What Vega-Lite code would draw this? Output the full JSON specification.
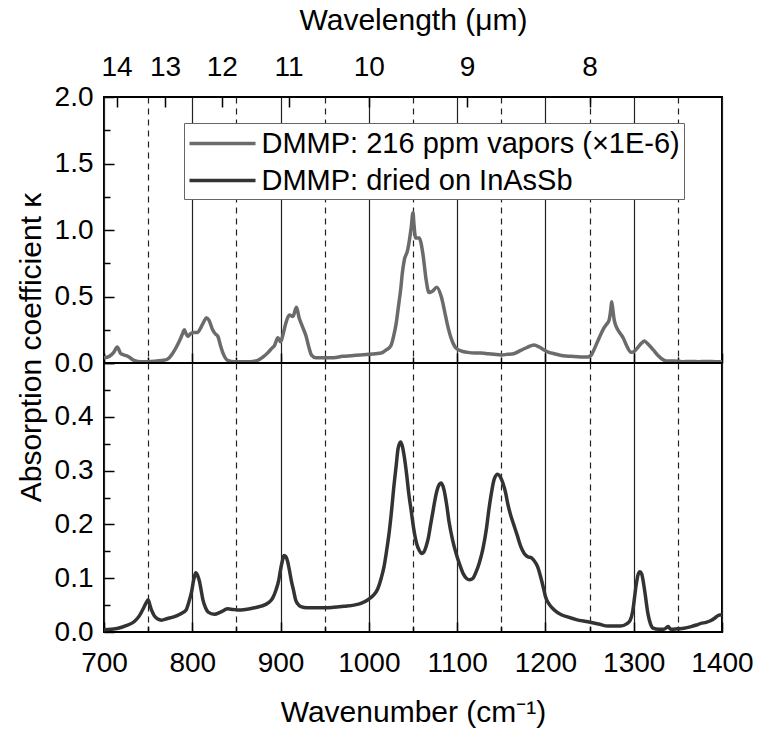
{
  "$schema": "https://vega.github.io/schema/vega-lite/v6.json",
  "padding": {"left": 15, "top": 4, "right": 5, "bottom": 5},
  "config": {
    "font": "Liberation Sans",
    "view": {"stroke": "#000", "strokeWidth": 2},
    "axis": {
      "labelFont": "Liberation Sans",
      "titleFont": "Liberation Sans",
      "labelFontSize": 28,
      "titleFontSize": 30,
      "titleFontWeight": "normal",
      "labelColor": "#000",
      "titleColor": "#000",
      "tickColor": "#000",
      "tickWidth": 1.5,
      "tickSize": -10,
      "domain": false,
      "grid": false,
      "labelFlush": false,
      "labelOverlap": false
    }
  },
  "datasets": {
    "vapor": [
      {"wn": 700, "k": 0.04}, {"wn": 706, "k": 0.05}, {"wn": 711, "k": 0.08}, {"wn": 715, "k": 0.12},
      {"wn": 719, "k": 0.07}, {"wn": 723, "k": 0.06}, {"wn": 727, "k": 0.05}, {"wn": 734, "k": 0.02},
      {"wn": 742, "k": 0.01}, {"wn": 750, "k": 0.01}, {"wn": 760, "k": 0.015}, {"wn": 768, "k": 0.02},
      {"wn": 774, "k": 0.04}, {"wn": 778, "k": 0.075}, {"wn": 782, "k": 0.12}, {"wn": 785, "k": 0.16},
      {"wn": 789, "k": 0.22}, {"wn": 791, "k": 0.25}, {"wn": 793, "k": 0.22}, {"wn": 795, "k": 0.2},
      {"wn": 798, "k": 0.22}, {"wn": 801, "k": 0.23}, {"wn": 806, "k": 0.23}, {"wn": 810, "k": 0.27},
      {"wn": 813, "k": 0.31}, {"wn": 816, "k": 0.34}, {"wn": 819, "k": 0.32}, {"wn": 823, "k": 0.25},
      {"wn": 826, "k": 0.22}, {"wn": 829, "k": 0.2}, {"wn": 832, "k": 0.13}, {"wn": 835, "k": 0.07},
      {"wn": 840, "k": 0.02}, {"wn": 848, "k": 0.01}, {"wn": 855, "k": 0.01}, {"wn": 865, "k": 0.01},
      {"wn": 874, "k": 0.02}, {"wn": 880, "k": 0.045}, {"wn": 886, "k": 0.08}, {"wn": 890, "k": 0.11},
      {"wn": 893, "k": 0.13}, {"wn": 897, "k": 0.19}, {"wn": 900, "k": 0.16}, {"wn": 903, "k": 0.22},
      {"wn": 906, "k": 0.3}, {"wn": 910, "k": 0.36}, {"wn": 914, "k": 0.35}, {"wn": 918, "k": 0.42},
      {"wn": 921, "k": 0.34}, {"wn": 925, "k": 0.27}, {"wn": 929, "k": 0.2}, {"wn": 932, "k": 0.12},
      {"wn": 935, "k": 0.06}, {"wn": 940, "k": 0.04}, {"wn": 950, "k": 0.04}, {"wn": 960, "k": 0.04},
      {"wn": 970, "k": 0.05}, {"wn": 980, "k": 0.055}, {"wn": 990, "k": 0.06}, {"wn": 1000, "k": 0.065},
      {"wn": 1008, "k": 0.07}, {"wn": 1014, "k": 0.075}, {"wn": 1020, "k": 0.1}, {"wn": 1025, "k": 0.13},
      {"wn": 1028, "k": 0.2}, {"wn": 1031, "k": 0.3}, {"wn": 1034, "k": 0.45}, {"wn": 1036, "k": 0.55},
      {"wn": 1038, "k": 0.68}, {"wn": 1040, "k": 0.77}, {"wn": 1044, "k": 0.85}, {"wn": 1048, "k": 1.02},
      {"wn": 1050, "k": 1.13}, {"wn": 1051, "k": 1.05}, {"wn": 1053, "k": 0.94}, {"wn": 1057, "k": 0.94},
      {"wn": 1061, "k": 0.83}, {"wn": 1065, "k": 0.62}, {"wn": 1068, "k": 0.53}, {"wn": 1072, "k": 0.54},
      {"wn": 1077, "k": 0.57}, {"wn": 1082, "k": 0.5}, {"wn": 1087, "k": 0.35}, {"wn": 1090, "k": 0.26},
      {"wn": 1093, "k": 0.19}, {"wn": 1096, "k": 0.14}, {"wn": 1099, "k": 0.11}, {"wn": 1105, "k": 0.09},
      {"wn": 1112, "k": 0.08}, {"wn": 1120, "k": 0.075}, {"wn": 1127, "k": 0.075}, {"wn": 1135, "k": 0.07},
      {"wn": 1142, "k": 0.065}, {"wn": 1150, "k": 0.06}, {"wn": 1157, "k": 0.065}, {"wn": 1164, "k": 0.07},
      {"wn": 1172, "k": 0.095}, {"wn": 1180, "k": 0.12}, {"wn": 1187, "k": 0.135}, {"wn": 1193, "k": 0.12},
      {"wn": 1198, "k": 0.1}, {"wn": 1204, "k": 0.08}, {"wn": 1210, "k": 0.07}, {"wn": 1220, "k": 0.055},
      {"wn": 1229, "k": 0.05}, {"wn": 1240, "k": 0.045}, {"wn": 1248, "k": 0.045}, {"wn": 1252, "k": 0.06},
      {"wn": 1255, "k": 0.1}, {"wn": 1259, "k": 0.16}, {"wn": 1263, "k": 0.22}, {"wn": 1266, "k": 0.26},
      {"wn": 1269, "k": 0.29}, {"wn": 1272, "k": 0.32}, {"wn": 1274, "k": 0.4}, {"wn": 1275, "k": 0.46},
      {"wn": 1276, "k": 0.42}, {"wn": 1278, "k": 0.32}, {"wn": 1282, "k": 0.25}, {"wn": 1285, "k": 0.22},
      {"wn": 1288, "k": 0.19}, {"wn": 1292, "k": 0.13}, {"wn": 1297, "k": 0.08}, {"wn": 1301, "k": 0.09},
      {"wn": 1305, "k": 0.12}, {"wn": 1309, "k": 0.15}, {"wn": 1312, "k": 0.165}, {"wn": 1315, "k": 0.15},
      {"wn": 1318, "k": 0.13}, {"wn": 1322, "k": 0.1}, {"wn": 1327, "k": 0.06}, {"wn": 1332, "k": 0.03},
      {"wn": 1337, "k": 0.015}, {"wn": 1345, "k": 0.015}, {"wn": 1355, "k": 0.01}, {"wn": 1365, "k": 0.012},
      {"wn": 1373, "k": 0.01}, {"wn": 1383, "k": 0.012}, {"wn": 1393, "k": 0.01}, {"wn": 1400, "k": 0.01}
    ],
    "dried": [
      {"wn": 700, "k": 0.004}, {"wn": 708, "k": 0.005}, {"wn": 716, "k": 0.007}, {"wn": 725, "k": 0.012},
      {"wn": 734, "k": 0.019}, {"wn": 740, "k": 0.03}, {"wn": 745, "k": 0.045}, {"wn": 748, "k": 0.055},
      {"wn": 750, "k": 0.06}, {"wn": 752, "k": 0.05}, {"wn": 754, "k": 0.04}, {"wn": 757, "k": 0.03},
      {"wn": 761, "k": 0.024}, {"wn": 765, "k": 0.022}, {"wn": 772, "k": 0.025}, {"wn": 779, "k": 0.028},
      {"wn": 786, "k": 0.033}, {"wn": 793, "k": 0.041}, {"wn": 796, "k": 0.055}, {"wn": 799, "k": 0.073},
      {"wn": 802, "k": 0.1}, {"wn": 804, "k": 0.11}, {"wn": 806, "k": 0.105}, {"wn": 808, "k": 0.095},
      {"wn": 810, "k": 0.078}, {"wn": 812, "k": 0.06}, {"wn": 815, "k": 0.045}, {"wn": 818, "k": 0.037},
      {"wn": 825, "k": 0.033}, {"wn": 832, "k": 0.037}, {"wn": 840, "k": 0.043}, {"wn": 846, "k": 0.042},
      {"wn": 852, "k": 0.041}, {"wn": 860, "k": 0.042}, {"wn": 870, "k": 0.045}, {"wn": 878, "k": 0.048},
      {"wn": 886, "k": 0.054}, {"wn": 891, "k": 0.063}, {"wn": 895, "k": 0.079}, {"wn": 898, "k": 0.097},
      {"wn": 900, "k": 0.116}, {"wn": 902, "k": 0.132}, {"wn": 904, "k": 0.142}, {"wn": 906, "k": 0.14},
      {"wn": 908, "k": 0.131}, {"wn": 910, "k": 0.115}, {"wn": 912, "k": 0.097}, {"wn": 915, "k": 0.075},
      {"wn": 917, "k": 0.06}, {"wn": 920, "k": 0.051}, {"wn": 923, "k": 0.047}, {"wn": 930, "k": 0.045},
      {"wn": 938, "k": 0.045}, {"wn": 950, "k": 0.045}, {"wn": 960, "k": 0.046}, {"wn": 972, "k": 0.048},
      {"wn": 983, "k": 0.05}, {"wn": 991, "k": 0.053}, {"wn": 999, "k": 0.06}, {"wn": 1005, "k": 0.068},
      {"wn": 1010, "k": 0.08}, {"wn": 1014, "k": 0.1}, {"wn": 1017, "k": 0.12}, {"wn": 1020, "k": 0.15},
      {"wn": 1023, "k": 0.185}, {"wn": 1026, "k": 0.23}, {"wn": 1028, "k": 0.265}, {"wn": 1031, "k": 0.31},
      {"wn": 1033, "k": 0.34}, {"wn": 1036, "k": 0.353}, {"wn": 1038, "k": 0.345}, {"wn": 1040, "k": 0.327},
      {"wn": 1043, "k": 0.29}, {"wn": 1045, "k": 0.26}, {"wn": 1048, "k": 0.225}, {"wn": 1051, "k": 0.19},
      {"wn": 1054, "k": 0.165}, {"wn": 1057, "k": 0.152}, {"wn": 1060, "k": 0.146}, {"wn": 1062, "k": 0.148},
      {"wn": 1065, "k": 0.16}, {"wn": 1067, "k": 0.172}, {"wn": 1070, "k": 0.2}, {"wn": 1073, "k": 0.228},
      {"wn": 1076, "k": 0.255}, {"wn": 1079, "k": 0.272}, {"wn": 1082, "k": 0.277}, {"wn": 1085, "k": 0.265},
      {"wn": 1088, "k": 0.238}, {"wn": 1091, "k": 0.203}, {"wn": 1095, "k": 0.17}, {"wn": 1099, "k": 0.145},
      {"wn": 1103, "k": 0.125}, {"wn": 1107, "k": 0.108}, {"wn": 1111, "k": 0.099}, {"wn": 1114, "k": 0.097},
      {"wn": 1118, "k": 0.1}, {"wn": 1121, "k": 0.11}, {"wn": 1125, "k": 0.128}, {"wn": 1129, "k": 0.153},
      {"wn": 1133, "k": 0.19}, {"wn": 1136, "k": 0.228}, {"wn": 1139, "k": 0.26}, {"wn": 1142, "k": 0.284},
      {"wn": 1146, "k": 0.293}, {"wn": 1149, "k": 0.288}, {"wn": 1152, "k": 0.276}, {"wn": 1155, "k": 0.258},
      {"wn": 1157, "k": 0.241}, {"wn": 1161, "k": 0.215}, {"wn": 1164, "k": 0.2}, {"wn": 1168, "k": 0.18},
      {"wn": 1172, "k": 0.159}, {"wn": 1176, "k": 0.146}, {"wn": 1180, "k": 0.14}, {"wn": 1184, "k": 0.138},
      {"wn": 1187, "k": 0.133}, {"wn": 1191, "k": 0.122}, {"wn": 1195, "k": 0.1}, {"wn": 1198, "k": 0.08},
      {"wn": 1200, "k": 0.066}, {"wn": 1205, "k": 0.05}, {"wn": 1210, "k": 0.041}, {"wn": 1218, "k": 0.032},
      {"wn": 1225, "k": 0.028}, {"wn": 1235, "k": 0.023}, {"wn": 1248, "k": 0.019}, {"wn": 1260, "k": 0.015},
      {"wn": 1271, "k": 0.011}, {"wn": 1285, "k": 0.011}, {"wn": 1292, "k": 0.015}, {"wn": 1296, "k": 0.022},
      {"wn": 1299, "k": 0.04}, {"wn": 1301, "k": 0.065}, {"wn": 1303, "k": 0.09}, {"wn": 1305, "k": 0.107},
      {"wn": 1307, "k": 0.112}, {"wn": 1309, "k": 0.108}, {"wn": 1311, "k": 0.092}, {"wn": 1313, "k": 0.07},
      {"wn": 1316, "k": 0.035}, {"wn": 1319, "k": 0.015}, {"wn": 1322, "k": 0.007}, {"wn": 1328, "k": 0.005},
      {"wn": 1334, "k": 0.005}, {"wn": 1339, "k": 0.01}, {"wn": 1342, "k": 0.005}, {"wn": 1350, "k": 0.006},
      {"wn": 1357, "k": 0.007}, {"wn": 1365, "k": 0.01}, {"wn": 1371, "k": 0.013}, {"wn": 1376, "k": 0.016},
      {"wn": 1382, "k": 0.018}, {"wn": 1387, "k": 0.021}, {"wn": 1392, "k": 0.026}, {"wn": 1396, "k": 0.031},
      {"wn": 1400, "k": 0.032}
    ]
  },
  "spacing": 0,
  "bounds": "flush",
  "resolve": {"scale": {"color": "independent"}, "legend": {"color": "independent"}},
  "vconcat": [
    {
      "width": 618,
      "height": 266,
      "layer": [
        {
          "data": {"name": "vapor"},
          "mark": {"type": "line", "interpolate": "monotone", "strokeWidth": 3.5},
          "encoding": {
            "x": {
              "field": "wn", "type": "quantitative",
              "scale": {"domain": [700, 1400], "nice": false, "zero": false},
              "axis": {
                "orient": "bottom",
                "values": [700, 750, 800, 850, 900, 950, 1000, 1050, 1100, 1150, 1200, 1250, 1300, 1350, 1400],
                "labels": false,
                "title": null,
                "grid": true,
                "gridColor": "#222",
                "gridWidth": 1.2,
                "gridDash": {"condition": {"test": "datum.value % 100 != 0", "value": [6, 5]}, "value": []},
                "tickDash": {"condition": {"test": "datum.value % 100 != 0", "value": [6, 30]}, "value": []}
              }
            },
            "y": {
              "field": "k", "type": "quantitative",
              "scale": {"domain": [0, 2], "nice": false},
              "axis": {
                "values": [0, 0.25, 0.5, 0.75, 1, 1.25, 1.5, 1.75, 2],
                "labelExpr": "datum.value * 2 == round(datum.value * 2) ? format(datum.value, '.1f') : ''",
                "title": null,
                "tickDash": {"condition": {"test": "datum.value * 2 != round(datum.value * 2)", "value": [6, 30]}, "value": []},
                "labelPadding": 21
              }
            },
            "color": {
              "datum": "DMMP: 216 ppm vapors (×1E-6)",
              "type": "nominal",
              "scale": {"domain": ["DMMP: 216 ppm vapors (×1E-6)", "DMMP: dried on InAsSb"], "range": ["#6b6b6b", "#333333"]},
              "legend": {
                "orient": "none",
                "legendX": 80,
                "legendY": 26,
                "title": null,
                "symbolType": "M-1,0H3.4",
                "symbolSize": 900,
                "symbolStrokeWidth": 3.5,
                "labelFont": "Liberation Sans",
                "labelFontSize": 29,
                "labelColor": "#000",
                "labelLimit": 700,
                "labelOffset": 40,
                "strokeColor": "#666",
                "fillColor": "#fff",
                "padding": 3.5,
                "rowPadding": 5
              }
            }
          }
        },
        {
          "data": {"name": "vapor"},
          "mark": {"type": "rule", "opacity": 0},
          "encoding": {
            "x": {
              "field": "wn", "type": "quantitative",
              "axis": {
                "orient": "top",
                "values": [714.2857, 769.2308, 833.3333, 909.0909, 1000, 1111.1111, 1250],
                "labelExpr": "format(10000 / datum.value, '.0f')",
                "title": "Wavelength (μm)",
                "titlePadding": 18,
                "labelPadding": 26
              }
            }
          }
        }
      ],
      "resolve": {"axis": {"x": "independent"}}
    },
    {
      "width": 618,
      "height": 269,
      "data": {"name": "dried"},
      "mark": {"type": "line", "interpolate": "monotone", "strokeWidth": 3.5, "color": "#333333"},
      "encoding": {
        "x": {
          "field": "wn", "type": "quantitative",
          "scale": {"domain": [700, 1400], "nice": false, "zero": false},
          "axis": {
            "orient": "bottom",
            "values": [700, 750, 800, 850, 900, 950, 1000, 1050, 1100, 1150, 1200, 1250, 1300, 1350, 1400],
            "labelExpr": "datum.value % 100 == 0 ? format(datum.value, 'd') : ''",
            "title": "Wavenumber (cm⁻¹)",
            "titlePadding": 20,
            "labelPadding": 27,
            "grid": true,
            "gridColor": "#222",
            "gridWidth": 1.2,
            "gridDash": {"condition": {"test": "datum.value % 100 != 0", "value": [6, 5]}, "value": []},
            "tickDash": {"condition": {"test": "datum.value % 100 != 0", "value": [6, 30]}, "value": []}
          }
        },
        "y": {
          "field": "k", "type": "quantitative",
          "scale": {"domain": [0, 0.5], "nice": false},
          "axis": {
            "values": [0, 0.05, 0.1, 0.15, 0.2, 0.25, 0.3, 0.35, 0.4, 0.45, 0.5],
            "labelExpr": "abs(datum.value * 10 - round(datum.value * 10)) < 0.01 && datum.value < 0.45 ? format(datum.value, '.1f') : ''",
            "title": "Absorption coefficient κ",
            "titleY": -16,
            "titlePadding": 8,
            "tickDash": {"condition": {"test": "abs(datum.value * 10 - round(datum.value * 10)) > 0.01", "value": [6, 30]}, "value": []},
            "labelPadding": 21
          }
        }
      }
    }
  ]
}
